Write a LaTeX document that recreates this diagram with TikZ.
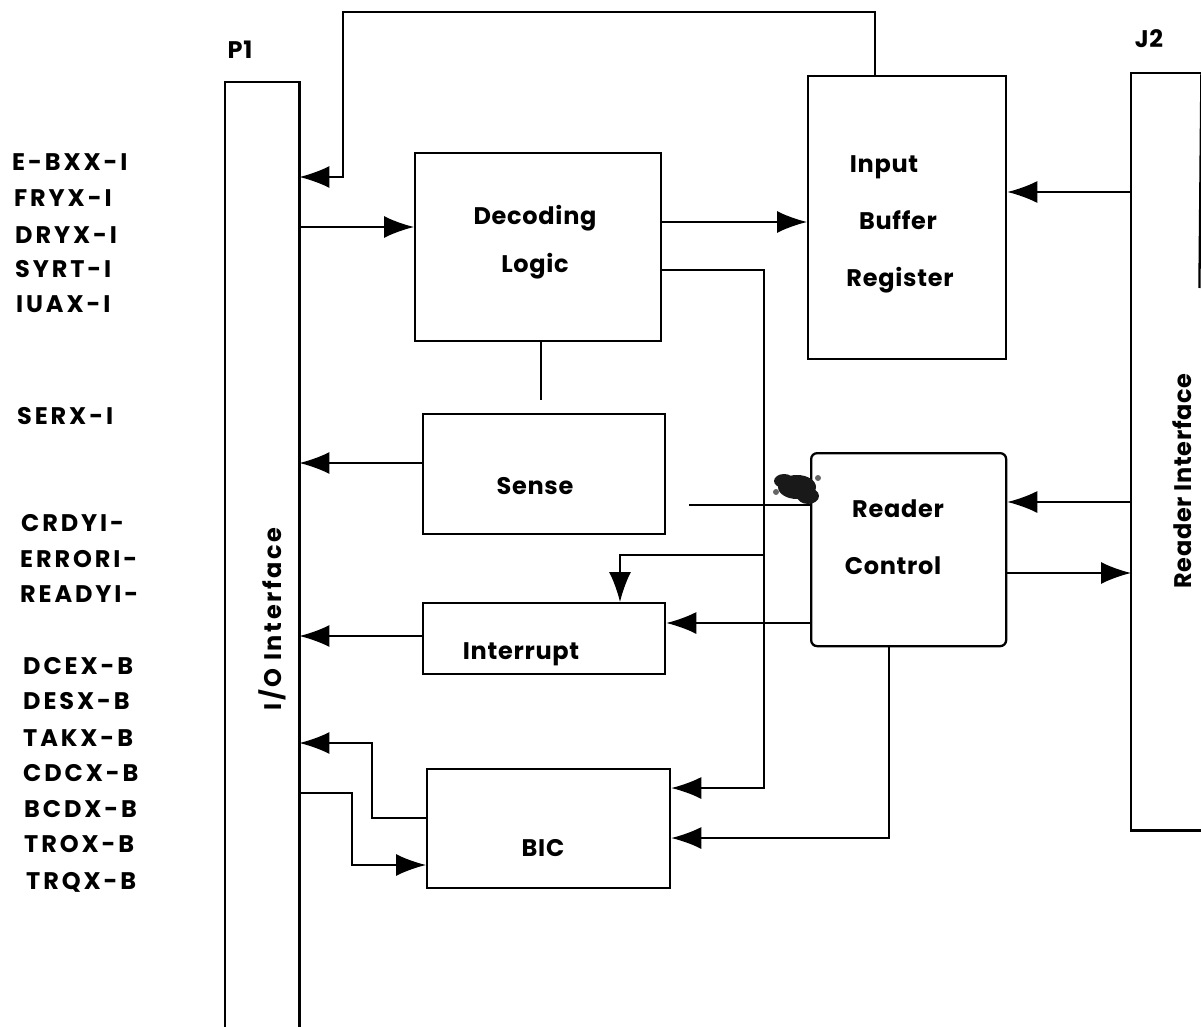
\documentclass[tikz,border=0pt]{standalone}
\usepackage{fontspec}
\setmainfont{Poppins}[LetterSpace=3]
\newfontfamily\lblfont{Poppins}[LetterSpace=12]
\newfontfamily\iofont{Poppins}[LetterSpace=11]
\usetikzlibrary{arrows.meta,calc}
\begin{document}
\begin{tikzpicture}[x=1pt,y=-1pt,
  ln/.style={line width=1.8pt},
  arr/.style={line width=1.8pt,-{Latex[length=30pt,width=22pt]}},
  box/.style={draw,line width=2.3pt,inner sep=0pt,anchor=north west},
  bar/.style={inner sep=0pt,anchor=north west},
  txt/.style={font=\bfseries\fontsize{24}{28}\selectfont,anchor=base,inner sep=0pt},
  lbl/.style={font=\lblfont\bfseries\fontsize{24}{28}\selectfont,anchor=base west,inner sep=0pt}]
\useasboundingbox (0,0) rectangle (1201,1027);

% connector bars
\node[bar,minimum width=74pt,minimum height=945pt] (p1) at (225,82) {};
\draw[line width=2.3pt] (p1.south west) -- (p1.north west) -- (p1.north east) -- (p1.south east);
\node[bar,minimum width=70pt,minimum height=757pt] (j2) at (1131,73) {};
\draw[line width=2.3pt] (j2.north east) -- (j2.north west) -- (j2.south west) -- (j2.south east);
\draw[line width=2.3pt] (j2.north east) -- ($(j2.north east)+(-2,215)$);

\node[txt] (p1lbl) at (240,59) {P1};
\node[txt] (j2lbl) at (1149,48) {J2};
\node[txt,rotate=90,anchor=center,font=\iofont\bfseries\fontsize{24}{28}\selectfont] (iotxt) at (272,619) {I/O Interface};
\node[txt,rotate=90,anchor=center] (rdtxt) at (1182,481) {Reader Interface};

% blocks
\node[box,minimum width=246pt,minimum height=188pt] (dec) at (414,152) {};
\node[txt] (dec1) at (535,224) {Decoding};
\node[txt] (dec2) at (535,272) {Logic};

\node[box,minimum width=198pt,minimum height=283pt] (inp) at (807,75) {};
\node[txt] (inp1) at (884,172) {Input};
\node[txt] (inp2) at (898,229) {Buffer};
\node[txt] (inp3) at (900,286) {Register};

\node[box,minimum width=242pt,minimum height=120pt] (sen) at (422,413) {};
\node[txt] (sen1) at (535,494) {Sense};

\node[box,minimum width=242pt,minimum height=71pt] (int) at (422,602) {};
\node[txt] (int1) at (521,659) {Interrupt};

\node[box,minimum width=195pt,minimum height=193pt,rounded corners=6pt] (rc) at (810,452) {};
\node[txt] (rc1) at (898,517) {Reader};
\node[txt] (rc2) at (893,574) {Control};

\node[box,minimum width=243pt,minimum height=119pt] (bic) at (426,768) {};
\node[txt] (bic1) at (543,856) {BIC};

% ink blot
\fill[black!90] (797,487) ellipse [x radius=19pt, y radius=12pt];
\fill[black!90] (784,481) ellipse [x radius=10pt, y radius=7pt];
\fill[black!90] (808,496) ellipse [x radius=11pt, y radius=8pt];
\fill[black!60] (776,492) circle (3pt);
\fill[black!60] (818,478) circle (3pt);

% connectors
\coordinate (fbA) at (875,12);
\coordinate (fbB) at (343,12);
\coordinate (fbC) at (343,177);
\draw[arr] (inp.north -| fbA) -- (fbA) -- (fbB) -- (fbC) -- (fbC -| p1.east);

\draw[arr] (p1.east |- 0,227) -- (dec.west |- 0,227);
\draw[arr] (dec.east |- 0,222) -- (inp.west |- 0,222);
\draw[arr] (j2.west |- 0,192) -- (inp.east |- 0,192);

\coordinate (vline) at (764,270);
\draw[arr] (dec.east |- vline) -- (vline) -- (vline |- 0,788) -- (bic.east |- 0,788);
\coordinate (br) at (764,555);
\draw[arr] (br) -- (620,555) -- (int.north -| 620,0);

\coordinate (decstub) at (541,400);
\draw[ln] (dec.south -| decstub) -- (decstub);

\draw[arr] (sen.west |- 0,463) -- (p1.east |- 0,463);
\coordinate (rcstub) at (689,505);
\draw[ln] (rcstub) -- (rc.west |- rcstub);

\draw[arr] (int.west |- 0,636) -- (p1.east |- 0,636);
\draw[arr] (rc.west |- 0,623) -- (int.east |- 0,623);

\draw[arr] (j2.west |- 0,502) -- (rc.east |- 0,502);
\draw[arr] (rc.east |- 0,573) -- (j2.west |- 0,573);

\coordinate (rcb) at (889,838);
\draw[arr] (rc.south -| rcb) -- (rcb) -- (bic.east |- rcb);

\draw[arr] (bic.west |- 0,818) -- (372,818) -- (372,743) -- (p1.east |- 0,743);
\draw[arr] (p1.east |- 0,793) -- (352,793) -- (352,865) -- (bic.west |- 0,865);

% signal labels
\node[lbl] (l1) at (12,171) {E-BXX-I};
\node[lbl] (l2) at (14,207) {FRYX-I};
\node[lbl] (l3) at (15,243) {DRYX-I};
\node[lbl] (l4) at (15,277) {SYRT-I};
\node[lbl] (l5) at (16,312) {IUAX-I};
\node[lbl] (l6) at (17,424) {SERX-I};
\node[lbl] (l7) at (21,531) {CRDYI-};
\node[lbl] (l8) at (20,567) {ERRORI-};
\node[lbl] (l9) at (20,602) {READYI-};
\node[lbl] (l10) at (23,674) {DCEX-B};
\node[lbl] (l11) at (23,709) {DESX-B};
\node[lbl] (l12) at (23,746) {TAKX-B};
\node[lbl] (l13) at (23,781) {CDCX-B};
\node[lbl] (l14) at (24,817) {BCDX-B};
\node[lbl] (l15) at (24,852) {TROX-B};
\node[lbl] (l16) at (26,889) {TRQX-B};
\end{tikzpicture}
\end{document}
